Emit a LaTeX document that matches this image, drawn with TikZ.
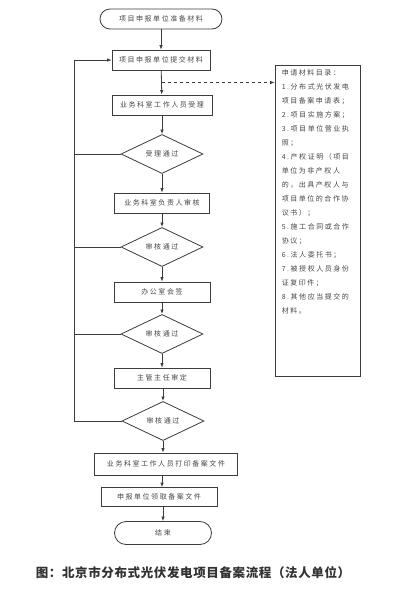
\documentclass[tikz,border=0pt]{standalone}
\usepackage{fontspec}
\setmainfont{Noto Sans CJK SC}
\newfontfamily\cjk{Noto Sans CJK SC}[LetterSpace=22]
\newfontfamily\cjkcap{Noto Sans CJK SC}[LetterSpace=5]
\definecolor{linegray}{RGB}{60,60,60}
\definecolor{textgray}{RGB}{70,70,70}
\usetikzlibrary{positioning,shapes.geometric,arrows.meta,calc}

\begin{document}
\begin{tikzpicture}[x=1pt,y=-1pt,
    stepbox/.style={rectangle,draw=linegray,line width=0.8pt,minimum height=20pt,inner sep=1pt,font=\cjk\fontsize{7}{8}\selectfont,text=textgray},
    terminal/.style={stepbox,rounded corners=10pt},
    check/.style={diamond,draw=linegray,line width=0.8pt,minimum width=82pt,minimum height=34pt,inner sep=0pt,font=\cjk\fontsize{7}{8}\selectfont,text=textgray},
    arr/.style={draw=linegray,line width=0.8pt,-{Latex[length=4.5pt,width=3.5pt]}},
    line/.style={draw=linegray,line width=0.8pt}
]
    \useasboundingbox[fill=white] (0,0) rectangle (404,600);
    \coordinate (axis) at (162,0);
    \coordinate (fb) at (74,0);

    \node[terminal,minimum width=122pt] (start) at (161,19) {项目申报单位准备材料};
    \node[stepbox,minimum width=98pt] (submit) at (161,60) {项目申报单位提交材料};
    \node[stepbox,minimum width=100pt] (accept) at (162,105) {业务科室工作人员受理};
    \node[check] (d1) at (162,154) {受理通过};
    \node[stepbox,minimum width=95pt] (review) at (162,203) {业务科室负责人审核};
    \node[check] (d2) at (162,247) {审核通过};
    \node[stepbox,minimum width=96pt] (office) at (162,292) {办公室会签};
    \node[check] (d3) at (162,334) {审核通过};
    \node[stepbox,minimum width=96pt] (director) at (162,378) {主管主任审定};
    \node[check] (d4) at (163,421) {审核通过};
    \node[stepbox,minimum width=143pt,minimum height=22pt] (print) at (166,464) {业务科室工作人员打印备案文件};
    \node[stepbox,minimum width=116pt,minimum height=19pt] (collect) at (159,497) {申报单位领取备案文件};
    \node[terminal,minimum width=97pt,minimum height=23pt,rounded corners=11.5pt] (finish) at (163,533) {结束};

    % material list
    \node[rectangle,draw=linegray,line width=0.8pt,minimum width=85pt,minimum height=311pt] (list) at (317.5,220.5) {};
    \node[anchor=north west,align=left,inner sep=0pt,font=\cjk\fontsize{7}{14}\selectfont,text=textgray] (items) at ([shift={(7,5)}]list.north west) {申请材料目录：\\1.分布式光伏发电\\项目备案申请表；\\2.项目实施方案；\\3.项目单位营业执\\照；\\4.产权证明（项目\\单位为非产权人\\的，出具产权人与\\项目单位的合作协\\议书）；\\5.施工合同或合作\\协议；\\6.法人委托书；\\7.被授权人员身份\\证复印件；\\8.其他应当提交的\\材料。};

    \draw[arr] (start) -- (submit);
    \draw[arr] (submit) -- (accept);
    \coordinate (branch) at ($(submit.south)!0.5!(accept.north)$);
    \draw[arr,dashed] (branch) -- (branch -| list.west);
    \draw[arr] (accept) -- (d1);
    \draw[arr] (d1) -- (review);
    \draw[arr] (review) -- (d2);
    \draw[arr] (d2) -- (office);
    \draw[arr] (office) -- (d3);
    \draw[arr] (d3) -- (director);
    \draw[arr] (director.south -| d4) -- (d4);
    \draw[arr] (d4.south) -- (d4.south |- print.north);
    \draw[arr] (print.south -| axis) -- (collect.north -| axis);
    \draw[arr] (collect.south -| finish) -- (finish);

    % returns
    \foreach \d in {d1,d2,d3}
        \draw[line] (\d.west) -- (\d.west -| fb);
    \draw[arr] (d4.west) -- (d4.west -| fb) -- (submit.west -| fb) -- (submit.west);

    \node[font=\cjkcap\bfseries\fontsize{12.5}{14}\selectfont,text=black!80] (caption) at (193,573) {图：北京市分布式光伏发电项目备案流程（法人单位）};
\end{tikzpicture}
\end{document}
